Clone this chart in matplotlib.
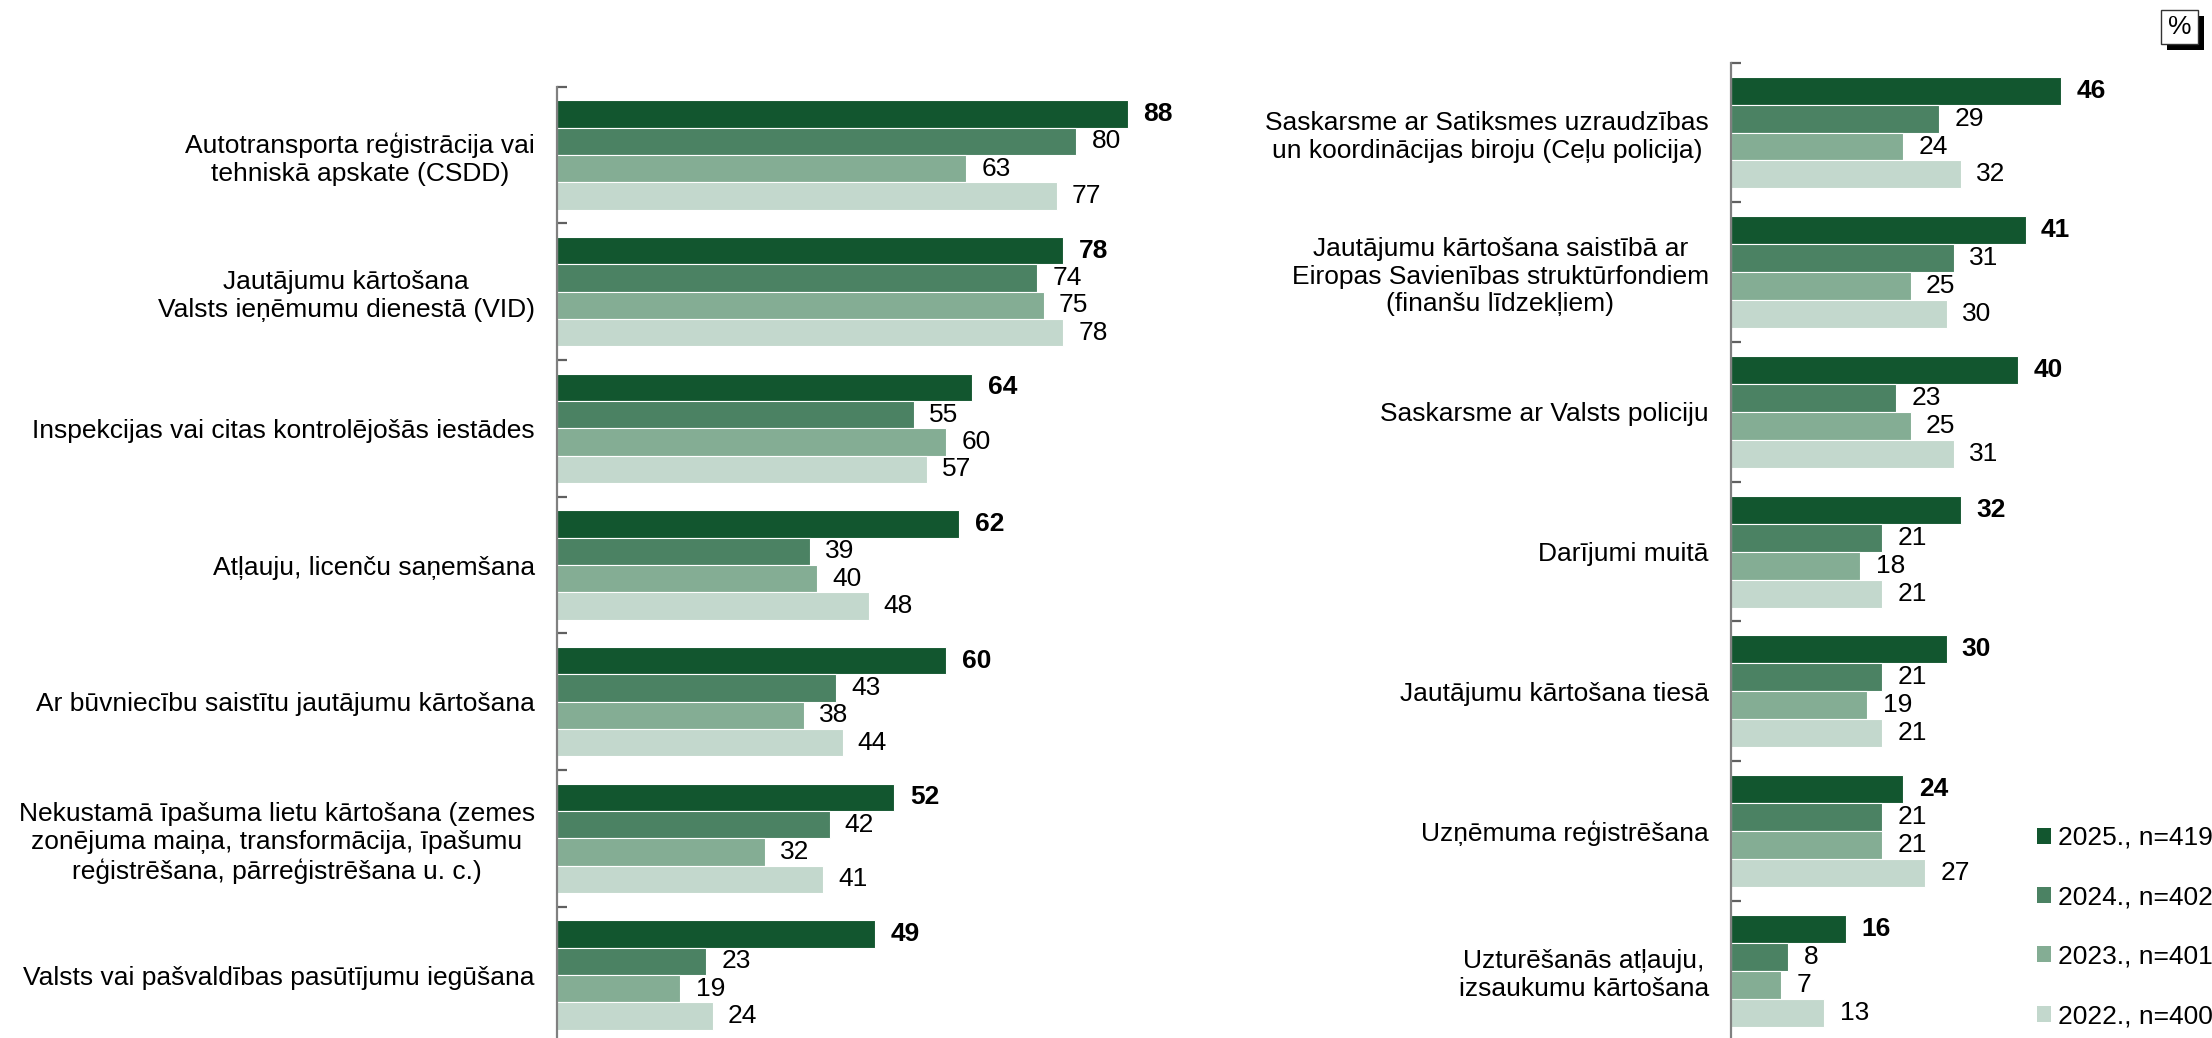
import matplotlib
matplotlib.use("Agg")
import matplotlib.pyplot as plt
from matplotlib.patches import Patch, Rectangle
import numpy as np

plt.rcParams['font.family'] = ['Liberation Sans', 'DejaVu Sans']

left_categories = [
    "Autotransporta reģistrācija vai\ntehniskā apskate (CSDD)",
    "Jautājumu kārtošana\nValsts ieņēmumu dienestā (VID)",
    "Inspekcijas vai citas kontrolējošās iestādes",
    "Atļauju, licenču saņemšana",
    "Ar būvniecību saistītu jautājumu kārtošana",
    "Nekustamā īpašuma lietu kārtošana (zemes\nzonējuma maiņa, transformācija, īpašumu\nreģistrēšana, pārreģistrēšana u. c.)",
    "Valsts vai pašvaldības pasūtījumu iegūšana",
]
left_2025 = [88, 78, 64, 62, 60, 52, 49]
left_2024 = [80, 74, 55, 39, 43, 42, 23]
left_2023 = [63, 75, 60, 40, 38, 32, 19]
left_2022 = [77, 78, 57, 48, 44, 41, 24]

right_categories = [
    "Saskarsme ar Satiksmes uzraudzības\nun koordinācijas biroju (Ceļu policija)",
    "Jautājumu kārtošana saistībā ar\nEiropas Savienības struktūrfondiem\n(finanšu līdzekļiem)",
    "Saskarsme ar Valsts policiju",
    "Darījumi muitā",
    "Jautājumu kārtošana tiesā",
    "Uzņēmuma reģistrēšana",
    "Uzturēšanās atļauju,\nizsaukumu kārtošana",
]
right_2025 = [46, 41, 40, 32, 30, 24, 16]
right_2024 = [29, 31, 23, 21, 21, 21, 8]
right_2023 = [24, 25, 25, 18, 19, 21, 7]
right_2022 = [32, 30, 31, 21, 21, 27, 13]

series_labels = ["2025., n=419", "2024., n=402", "2023., n=401", "2022., n=400"]
colors = ["#12562F", "#4B8263", "#84AD94", "#C3D8CD"]

W, H = 2212, 1038
fig = plt.figure(figsize=(W / 100, H / 100), dpi=100)

FS = 19


def make_panel(rect, cats, series, xmax):
    ax = fig.add_axes(rect)
    n = len(cats)
    y = np.arange(n)
    offsets = [-0.3, -0.1, 0.1, 0.3]
    for k, (vals, col) in enumerate(zip(series, colors)):
        bars = ax.barh(y + offsets[k], vals, height=0.2, color=col,
                       edgecolor="white", linewidth=0.8)
        for b, v in zip(bars, vals):
            ax.annotate(str(v), (b.get_width(), b.get_y() + b.get_height() / 2),
                        xytext=(11, 0), textcoords="offset points",
                        ha="left", va="center", fontsize=FS,
                        fontweight="bold" if k == 0 else "normal", color="black")
    ax.set_xlim(0, xmax)
    ax.set_ylim(n - 0.5, -0.5)
    for s in ["top", "right", "bottom"]:
        ax.spines[s].set_visible(False)
    ax.spines["left"].set_color("#808080")
    ax.spines["left"].set_linewidth(1.6)
    ax.set_xticks([])
    ax.set_yticks(y)
    ax.set_yticklabels(cats, fontsize=FS, ha="right", multialignment="center")
    ax.tick_params(axis="y", which="major", length=0, pad=16)
    ax.set_yticks(np.arange(n) - 0.5, minor=True)
    ax.tick_params(axis="y", which="minor", length=7, width=1.6,
                   direction="in", color="#606060")
    return ax


# left panel: axis at x=557, top boundary y=86.7, bottom 1043.4
lx0, lw = 557, 649
ax1 = make_panel([lx0 / W, 1 - 1043.4 / H, lw / W, (1043.4 - 86.7) / H],
                 left_categories, [left_2025, left_2024, left_2023, left_2022], 100)

rx0, rw = 1731, 431
ax2 = make_panel([rx0 / W, 1 - 1040.6 / H, rw / W, (1040.6 - 62.7) / H],
                 right_categories, [right_2025, right_2024, right_2023, right_2022], 60)

handles = [Patch(facecolor=c, edgecolor="none") for c in colors]
fig.legend(handles, series_labels, loc="center left",
           bbox_to_anchor=(2026 / W, 1 - 927 / H), frameon=False, fontsize=FS,
           handlelength=0.55, handleheight=0.55, handletextpad=0.25,
           labelspacing=1.34, borderaxespad=0)

# percent box with shadow
fig.patches.append(Rectangle(((2167) / W, 1 - 50 / H), 37 / W, 34 / H,
                             transform=fig.transFigure, facecolor="black",
                             edgecolor="none", zorder=1))
fig.patches.append(Rectangle((2161 / W, 1 - 44 / H), 37 / W, 34 / H,
                             transform=fig.transFigure, facecolor="white",
                             edgecolor="#333333", linewidth=1, zorder=2))
fig.text(2179.5 / W, 1 - 27 / H, "%", ha="center", va="center", fontsize=19, zorder=3)

fig.savefig("out.png", dpi=100)
